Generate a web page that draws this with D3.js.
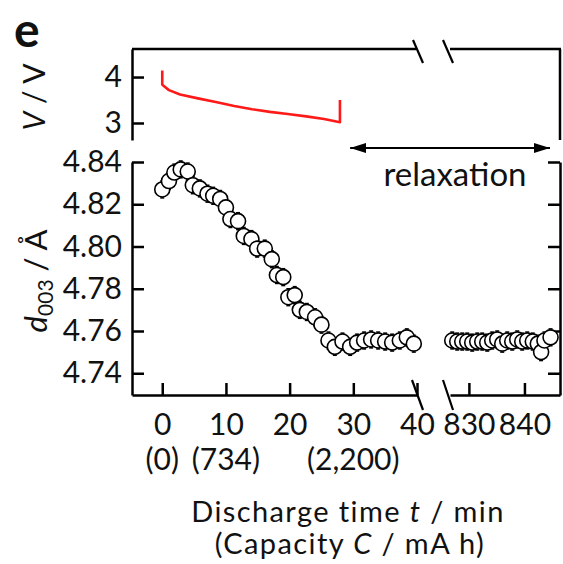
<!DOCTYPE html>
<html>
<head>
<meta charset="utf-8">
<script src="https://cdn.jsdelivr.net/npm/d3@7"></script>
<style>
	body { margin: 0; background: #fff; }
	svg text { font-family: Lato, 'Open Sans', sans-serif; fill: #111; }
</style>
</head>
<body>
<svg id="chart" width="563" height="564"></svg>
<script>
// Voltage during discharge (top panel)
const voltTime = [0, 0, 0.1, 1.05, 2.8, 5.6, 8.4, 11.3, 14.1, 16.9, 19.7, 22.6, 25.4, 27.9, 27.9];
const voltValue = [4.14, 3.84, 3.82, 3.715, 3.62, 3.536, 3.457, 3.371, 3.30, 3.242, 3.195, 3.144, 3.088, 3.017, 3.50];

// d003 during discharge and early relaxation (left part of the broken axis)
const earlyTime = [0, 1.05, 1.9, 2.9, 4.0, 4.8, 5.9, 7.1, 8.0, 9.1, 10.0, 10.7, 11.9, 12.8, 14.0, 14.9, 16.1,
	17.2, 18.0, 19.0, 19.8, 20.8, 21.6, 22.7, 24.0, 25.0, 26.1, 27.1, 28.3, 29.5, 30.6, 31.7, 32.8, 33.9,
	35.0, 36.1, 37.3, 38.4, 39.5];
const earlyD = [4.827, 4.831, 4.835, 4.8365, 4.8355, 4.829, 4.8275, 4.825, 4.824, 4.8225, 4.8185, 4.813, 4.812,
	4.805, 4.8035, 4.799, 4.799, 4.794, 4.7865, 4.7855, 4.776, 4.777, 4.770, 4.769, 4.7665, 4.763, 4.7555,
	4.7525, 4.755, 4.7525, 4.7545, 4.7555, 4.756, 4.7555, 4.755, 4.7545, 4.7555, 4.757, 4.754];

// d003 late in relaxation (right part of the broken axis)
const lateTime = [827.0, 827.9, 828.8, 829.7, 830.6, 831.5, 832.4, 833.3, 834.2, 835.1, 836.0, 836.9, 837.8,
	838.7, 839.6, 840.5, 841.5, 842.4, 843.0, 843.6, 844.7];
const lateD = [4.7555, 4.755, 4.755, 4.755, 4.7545, 4.755, 4.755, 4.7545, 4.7555, 4.756, 4.754, 4.7555, 4.755,
	4.756, 4.755, 4.7555, 4.755, 4.754, 4.750, 4.7555, 4.757];

const errD = 0.004; // error bar half-height

// ticks
const voltTicks = [3, 4];
const dTicks = [4.74, 4.76, 4.78, 4.80, 4.82, 4.84];
const leftTicks = [0, 10, 20, 30, 40];
const rightTicks = [830, 840];
const capTime = [0, 10, 30];
const capLabels = ['(0)', '(734)', '(2,200)'];

const svg = d3.select('#chart');
const lw = 2.5;
const fs = 30;

// scales - x axis is broken in two pieces
const xLeft = d3.scaleLinear().domain([-4.75, 40]).range([132, 417]);
const xRight = d3.scaleLinear().domain([826.6, 846.4]).range([450, 560]);
const yV = d3.scaleLinear().domain([2.63, 4.61]).range([140, 49]);
const yD = d3.scaleLinear().domain([4.7297, 4.84]).range([395, 162]);

function styleAxis(g) {
	g.attr('font-size', fs).attr('font-family', 'Lato, sans-serif');
	g.selectAll('path, line').attr('stroke', '#000').attr('stroke-width', lw);
	g.selectAll('text').attr('fill', '#111');
}

// ---------- top panel ----------
svg.append('g')
	.attr('transform', `translate(${xLeft.range()[0]},0)`)
	.call(d3.axisLeft(yV).tickValues(voltTicks).tickFormat(d3.format('d'))
		.tickSizeInner(-12).tickSizeOuter(0).tickPadding(10))
	.call(styleAxis);

const frame = svg.append('g').attr('stroke', '#000').attr('stroke-width', lw).attr('fill', 'none');
frame.append('line').attr('x1', xLeft.range()[0]).attr('x2', 416).attr('y1', yV.range()[1]).attr('y2', yV.range()[1]);
frame.append('line').attr('x1', xRight.range()[0]).attr('x2', xRight.range()[1] + 1).attr('y1', yV.range()[1]).attr('y2', yV.range()[1]);
frame.append('line').attr('x1', xRight.range()[1]).attr('x2', xRight.range()[1]).attr('y1', yV.range()[1]).attr('y2', yV.range()[0]);

// break marks on top border
[[413, 423], [443, 453]].forEach(([a, b]) => {
	frame.append('line').attr('x1', a).attr('y1', 40).attr('x2', b).attr('y2', 63).attr('stroke-width', 2.2);
});

const voltLine = d3.line().x((d, i) => xLeft(voltTime[i])).y(d => yV(d));
svg.append('path')
	.datum(voltValue)
	.attr('d', voltLine)
	.attr('fill', 'none')
	.attr('stroke', '#ff1a1a')
	.attr('stroke-width', 2.6)
	.attr('stroke-linejoin', 'round');

// ---------- bottom panel ----------
svg.append('g')
	.attr('transform', `translate(${xLeft.range()[0]},0)`)
	.call(d3.axisLeft(yD).tickValues(dTicks).tickFormat(d3.format('.2f'))
		.tickSizeInner(-12).tickSizeOuter(0).tickPadding(10))
	.call(styleAxis);

svg.append('g')
	.attr('transform', `translate(${xRight.range()[1]},0)`)
	.call(d3.axisRight(yD).tickValues(dTicks).tickFormat('')
		.tickSizeInner(-12).tickSizeOuter(0))
	.call(styleAxis);

svg.append('g')
	.attr('transform', `translate(0,${yD.range()[0]})`)
	.call(d3.axisBottom(xLeft).tickValues(leftTicks).tickFormat(d3.format('d'))
		.tickSizeInner(-12).tickSizeOuter(0).tickPadding(19))
	.call(styleAxis);

svg.append('g')
	.attr('transform', `translate(0,${yD.range()[0]})`)
	.call(d3.axisBottom(xRight).tickValues(rightTicks).tickFormat(d3.format('d'))
		.tickSizeInner(-12).tickSizeOuter(0).tickPadding(19))
	.call(styleAxis);

// break marks on bottom axis
[[412, 423], [443, 453]].forEach(([a, b]) => {
	frame.append('line').attr('x1', a).attr('y1', 380).attr('x2', b).attr('y2', 410).attr('stroke-width', 2.2);
});

// capacity labels under the time ticks
svg.append('g')
	.selectAll('text')
	.data(capLabels)
	.join('text')
	.attr('x', (d, i) => xLeft(capTime[i]))
	.attr('y', 470)
	.attr('text-anchor', 'middle')
	.attr('font-size', fs)
	.text(d => d);

// data points with error bars
function drawPoints(times, values, xs) {
	const g = svg.append('g');
	const pts = values.map((v, i) => ({ t: times[i], v }));
	const eb = g.append('g').attr('stroke', '#000').attr('stroke-width', 1.5);
	pts.forEach(p => {
		const x = xs(p.t);
		eb.append('line').attr('x1', x).attr('x2', x).attr('y1', yD(p.v - errD)).attr('y2', yD(p.v + errD));
		eb.append('line').attr('x1', x - 2).attr('x2', x + 2).attr('y1', yD(p.v - errD)).attr('y2', yD(p.v - errD));
		eb.append('line').attr('x1', x - 2).attr('x2', x + 2).attr('y1', yD(p.v + errD)).attr('y2', yD(p.v + errD));
	});
	g.selectAll('circle')
		.data(pts)
		.join('circle')
		.attr('cx', d => xs(d.t))
		.attr('cy', d => yD(d.v))
		.attr('r', 7.5)
		.attr('fill', '#fff')
		.attr('stroke', '#000')
		.attr('stroke-width', 1.6);
}
drawPoints(earlyTime, earlyD, xLeft);
drawPoints(lateTime, lateD, xRight);

// relaxation arrow
const defs = svg.append('defs');
defs.append('marker')
	.attr('id', 'head')
	.attr('viewBox', '0 0 16 10')
	.attr('refX', 16).attr('refY', 5)
	.attr('markerWidth', 16).attr('markerHeight', 10)
	.attr('markerUnits', 'userSpaceOnUse')
	.attr('orient', 'auto-start-reverse')
	.append('path').attr('d', 'M0,0L16,5L0,10Z').attr('fill', '#000');

svg.append('line')
	.attr('x1', xLeft(29.5)).attr('x2', xRight(844.6))
	.attr('y1', 148).attr('y2', 148)
	.attr('stroke', '#000').attr('stroke-width', 2.2)
	.attr('marker-start', 'url(#head)')
	.attr('marker-end', 'url(#head)');

svg.append('text')
	.attr('x', 455).attr('y', 186)
	.attr('text-anchor', 'middle')
	.attr('font-size', 33)
	.text('relaxation');

// panel letter
svg.append('text')
	.attr('x', 14).attr('y', 47)
	.attr('font-size', 48)
	.attr('font-weight', 'bold')
	.text('e');

// y labels
const vLab = svg.append('text')
	.attr('transform', 'translate(45,97) rotate(-90)')
	.attr('text-anchor', 'middle')
	.attr('font-size', 30);
vLab.append('tspan').attr('font-style', 'italic').text('V');
vLab.append('tspan').text(' / V');

const dLab = svg.append('text')
	.attr('transform', 'translate(47,281) rotate(-90)')
	.attr('text-anchor', 'middle')
	.attr('font-size', 31);
dLab.append('tspan').attr('font-style', 'italic').text('d');
dLab.append('tspan').attr('font-size', 21).attr('dy', 6).text('003');
dLab.append('tspan').attr('dy', -6).text(' / Å');

// x label
const xLab1 = svg.append('text')
	.attr('x', 348).attr('y', 522)
	.attr('text-anchor', 'middle')
	.attr('font-size', 29)
	.attr('letter-spacing', 1.4);
xLab1.append('tspan').text('Discharge time ');
xLab1.append('tspan').attr('font-style', 'italic').text('t');
xLab1.append('tspan').text(' / min');

const xLab2 = svg.append('text')
	.attr('x', 350).attr('y', 554)
	.attr('text-anchor', 'middle')
	.attr('font-size', 29)
	.attr('letter-spacing', 1.4);
xLab2.append('tspan').text('(Capacity ');
xLab2.append('tspan').attr('font-style', 'italic').text('C');
xLab2.append('tspan').text(' / mA h)');
</script>
</body>
</html>
